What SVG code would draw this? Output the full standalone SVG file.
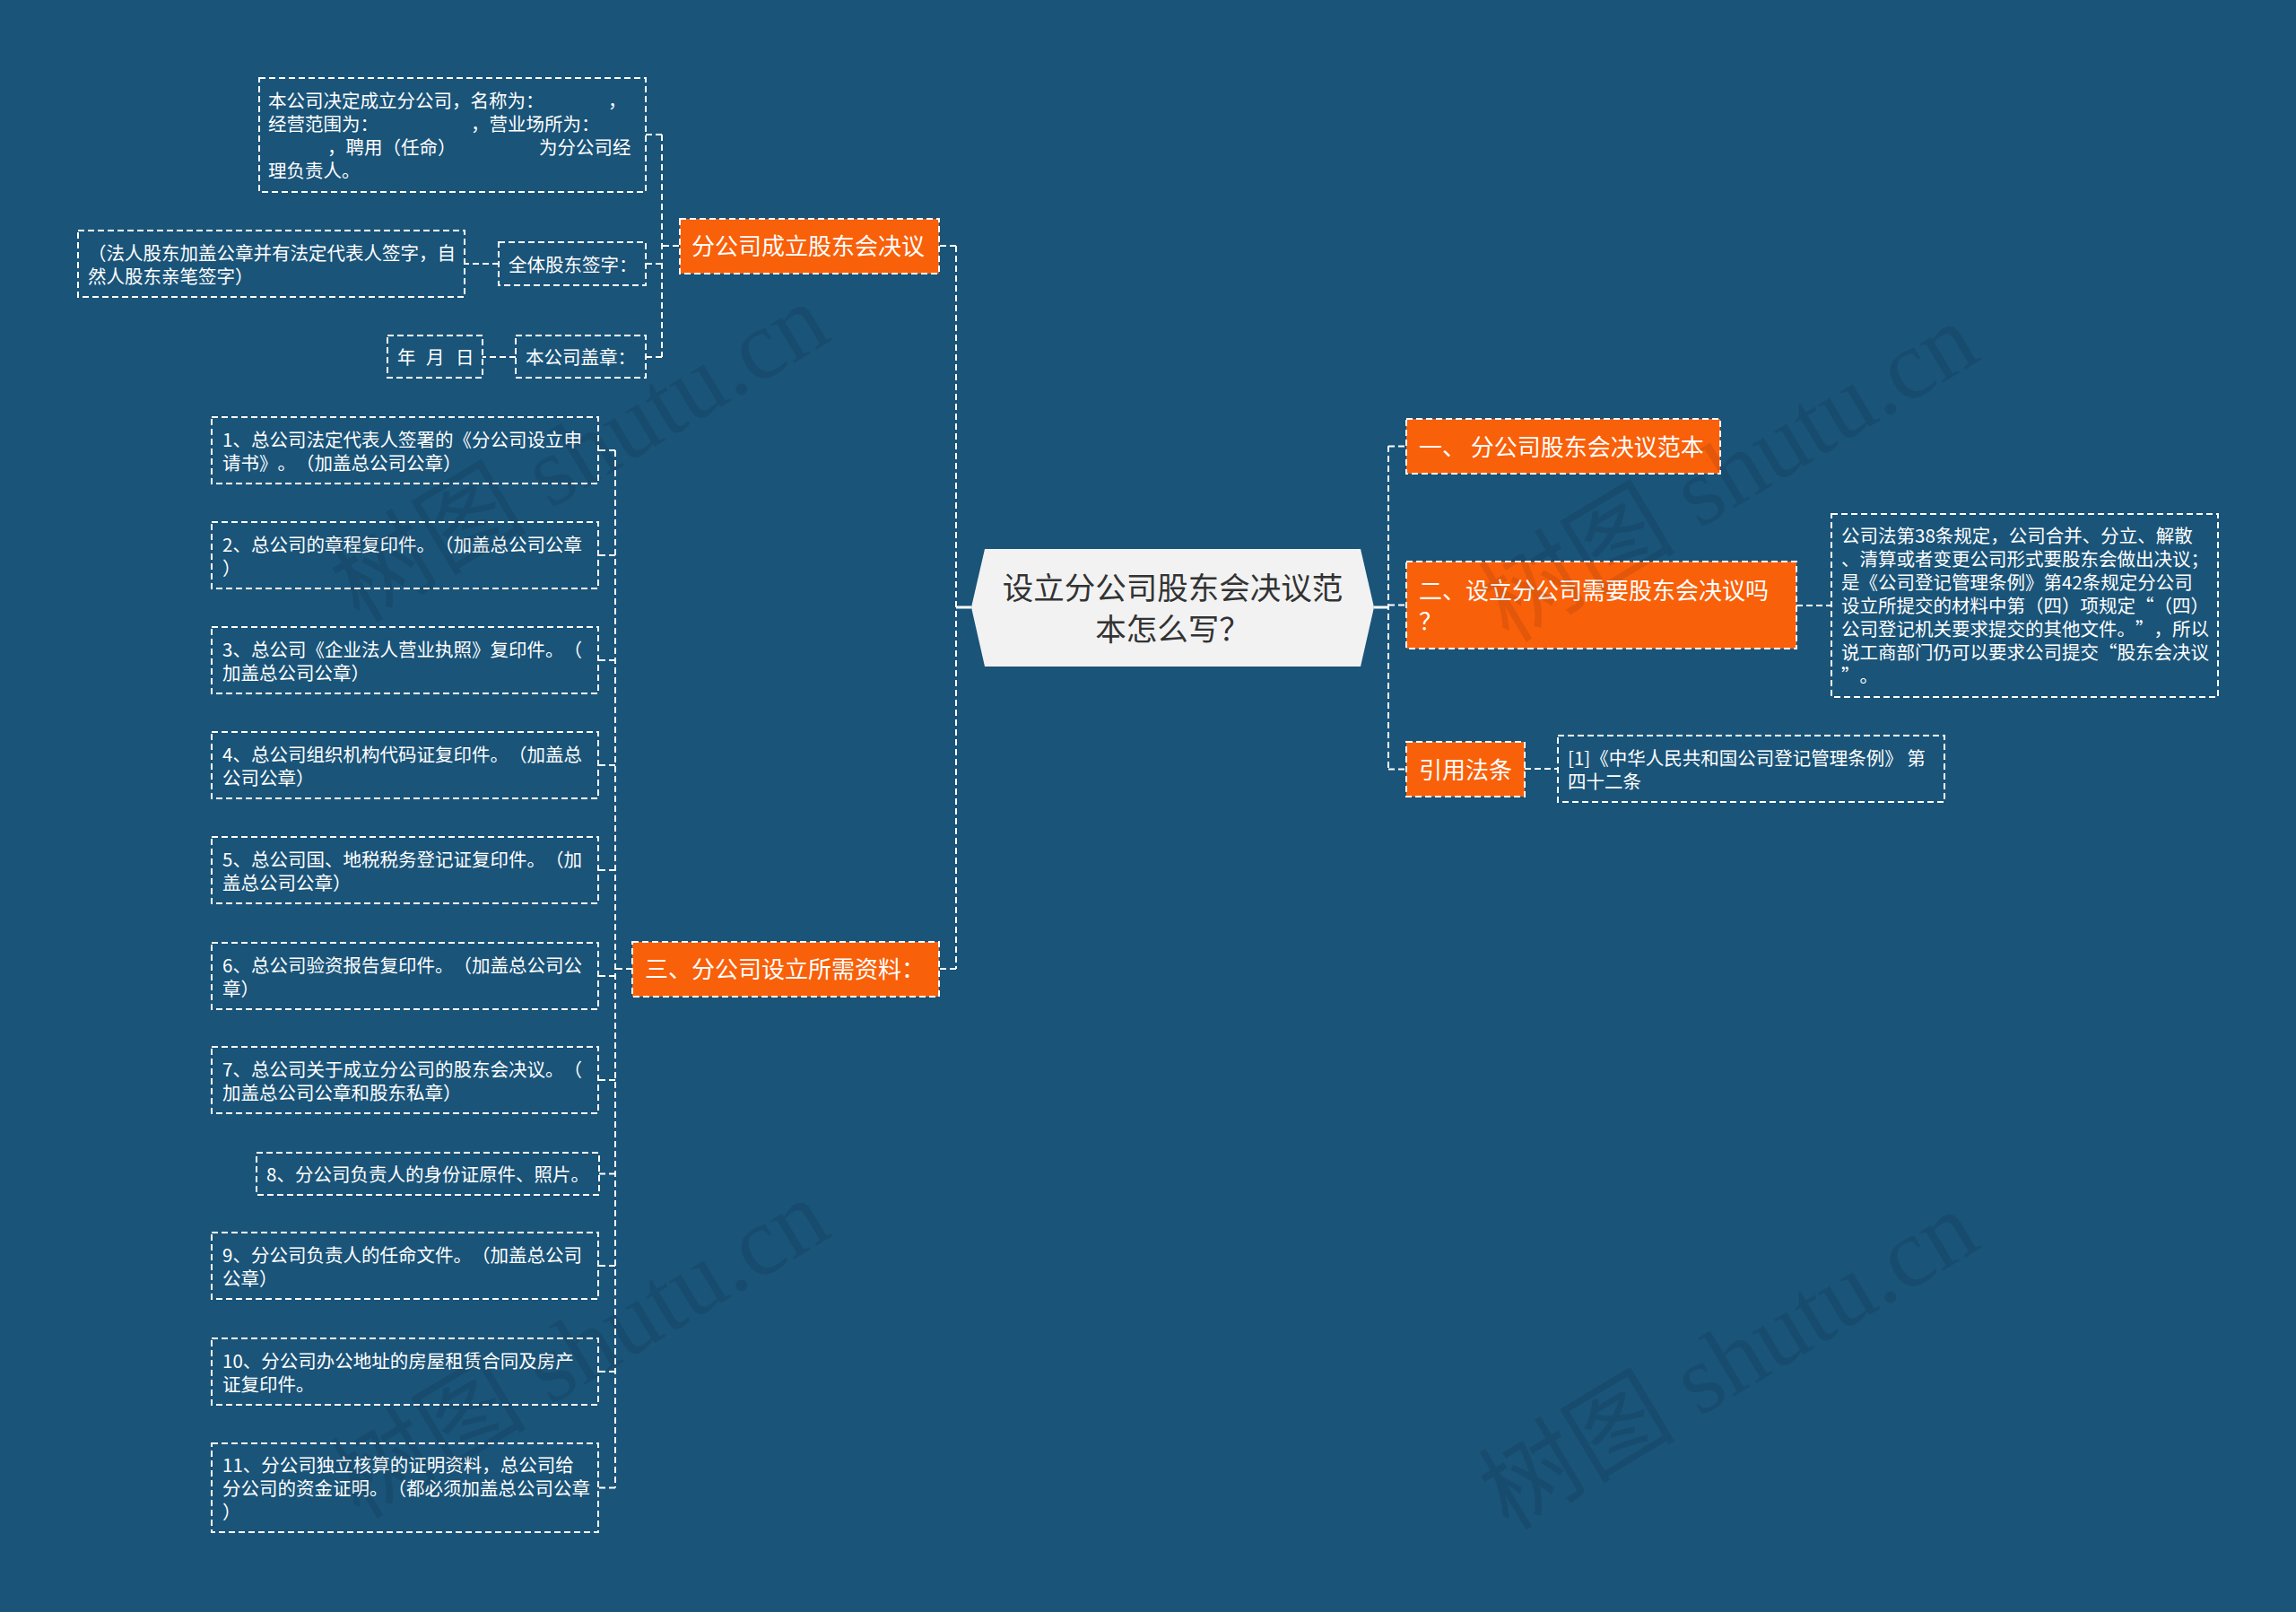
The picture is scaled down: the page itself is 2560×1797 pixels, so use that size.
<svg xmlns="http://www.w3.org/2000/svg" width="2560" height="1797" viewBox="0 0 2560 1797">
<style>
.box{fill:none;stroke:#fff;stroke-width:2;stroke-dasharray:7 4}
.obox{fill:#F9600A;stroke:#fff;stroke-width:2;stroke-dasharray:7 4}
.conn{fill:none;stroke:#fff;stroke-width:2;stroke-dasharray:7 4}
.solid{fill:none;stroke:#fff;stroke-width:3}
text{font-family:"Noto Sans CJK SC","Microsoft YaHei",sans-serif;text-spacing-trim:space-all}
.t{fill:#fff;font-size:20.5px}
.ot{fill:#fff;font-size:26px}
.ct{fill:#333;font-size:34.5px}
.wm{font-family:"Liberation Serif","Noto Sans CJK SC",serif;font-size:110px;fill:#000;fill-opacity:0.09}
</style>
<rect x="0" y="0" width="2560" height="1797" fill="#1A5479"/>

<g id="connectors">
  <path class="solid" d="M1083 677 H1066"/>
  <path class="conn" d="M1066 274 V1080"/>
  <path class="conn" d="M1066 274 H1047"/>
  <path class="conn" d="M1066 1080 H1047"/>
  <path class="solid" d="M1532 677 H1548"/>
  <path class="conn" d="M1548 497 V857"/>
  <path class="conn" d="M1548 497.5 H1568"/>
  <path class="conn" d="M1548 674.5 H1568"/>
  <path class="conn" d="M1548 857.5 H1568"/>
  <path class="conn" d="M757 274 H738"/>
  <path class="conn" d="M738 150 V398"/>
  <path class="conn" d="M738 150 H720"/>
  <path class="conn" d="M738 294 H720"/>
  <path class="conn" d="M738 398 H720"/>
  <path class="conn" d="M556 294 H518"/>
  <path class="conn" d="M575 398 H538"/>
  <path class="conn" d="M705 1080 H686"/>
  <path class="conn" d="M686 502 V1658.5"/>
  <path class="conn" d="M686 502 H667"/>
  <path class="conn" d="M686 619 H667"/>
  <path class="conn" d="M686 736 H667"/>
  <path class="conn" d="M686 853 H667"/>
  <path class="conn" d="M686 970 H667"/>
  <path class="conn" d="M686 1088 H667"/>
  <path class="conn" d="M686 1204 H667"/>
  <path class="conn" d="M686 1308.5 H668"/>
  <path class="conn" d="M686 1411 H667"/>
  <path class="conn" d="M686 1529 H667"/>
  <path class="conn" d="M686 1658.5 H667"/>
  <path class="conn" d="M2003 675 H2042"/>
  <path class="conn" d="M1700 857 H1737"/>
</g>

<g id="center">
  <polygon points="1098,612 1517,612 1532,677 1517,743 1098,743 1083,677" fill="#F2F2F2"/>
  <text class="ct" text-anchor="middle"><tspan x="1307.5" y="668">设立分公司股东会决议范</tspan><tspan x="1307.5" y="714">本怎么写？</tspan></text>
</g>

<g id="n-resolution">
  <rect class="obox" x="758" y="244" width="289" height="61"/>
  <text class="ot" x="771" y="284">分公司成立股东会决议</text>
</g>
<g id="n-resolution-text">
  <rect class="box" x="289" y="87" width="431" height="127"/>
  <text class="t"><tspan x="299" y="120">本公司决定成立分公司，名称为：</tspan><tspan x="678" y="120">，</tspan><tspan x="299" y="146">经营范围为：</tspan><tspan x="525" y="146">，营业场所为：</tspan><tspan x="365" y="172">，聘用（任命）</tspan><tspan x="601" y="172">为分公司经</tspan><tspan x="299" y="198">理负责人。</tspan></text>
</g>
<g id="n-sign">
  <rect class="box" x="556" y="270" width="164" height="48"/>
  <text class="t" x="567" y="302.5">全体股东签字：</text>
</g>
<g id="n-sign-note">
  <rect class="box" x="87" y="257" width="431" height="74"/>
  <text class="t"><tspan x="98" y="289.5">（法人股东加盖公章并有法定代表人签字，自</tspan><tspan x="98" y="315.5">然人股东亲笔签字）</tspan></text>
</g>
<g id="n-seal">
  <rect class="box" x="575" y="374" width="145" height="47"/>
  <text class="t" x="586" y="406">本公司盖章：</text>
</g>
<g id="n-date">
  <rect class="box" x="432" y="374" width="106" height="47"/>
  <text class="t"><tspan x="443" y="406">年</tspan><tspan x="475" y="406">月</tspan><tspan x="508" y="406">日</tspan></text>
</g>

<g id="n-materials">
  <rect class="obox" x="705" y="1050" width="342" height="61"/>
  <text class="ot" x="719" y="1090">三、分公司设立所需资料：</text>
</g>
<g id="m1">
  <rect class="box" x="236" y="465" width="431" height="74"/>
  <text class="t"><tspan x="248" y="497.5">1、总公司法定代表人签署的《分公司设立申</tspan><tspan x="248" y="523.5">请书》。（加盖总公司公章）</tspan></text>
</g>
<g id="m2">
  <rect class="box" x="236" y="582" width="431" height="74"/>
  <text class="t"><tspan x="248" y="614.5">2、总公司的章程复印件。（加盖总公司公章</tspan><tspan x="248" y="640.5">）</tspan></text>
</g>
<g id="m3">
  <rect class="box" x="236" y="699" width="431" height="74"/>
  <text class="t"><tspan x="248" y="731.5">3、总公司《企业法人营业执照》复印件。（</tspan><tspan x="248" y="757.5">加盖总公司公章）</tspan></text>
</g>
<g id="m4">
  <rect class="box" x="236" y="816" width="431" height="74"/>
  <text class="t"><tspan x="248" y="848.5">4、总公司组织机构代码证复印件。（加盖总</tspan><tspan x="248" y="874.5">公司公章）</tspan></text>
</g>
<g id="m5">
  <rect class="box" x="236" y="933" width="431" height="74"/>
  <text class="t"><tspan x="248" y="965.5">5、总公司国、地税税务登记证复印件。（加</tspan><tspan x="248" y="991.5">盖总公司公章）</tspan></text>
</g>
<g id="m6">
  <rect class="box" x="236" y="1051" width="431" height="74"/>
  <text class="t"><tspan x="248" y="1083.5">6、总公司验资报告复印件。（加盖总公司公</tspan><tspan x="248" y="1109.5">章）</tspan></text>
</g>
<g id="m7">
  <rect class="box" x="236" y="1167" width="431" height="74"/>
  <text class="t"><tspan x="248" y="1199.5">7、总公司关于成立分公司的股东会决议。（</tspan><tspan x="248" y="1225.5">加盖总公司公章和股东私章）</tspan></text>
</g>
<g id="m8">
  <rect class="box" x="286" y="1285" width="382" height="47"/>
  <text class="t" x="297" y="1317">8、分公司负责人的身份证原件、照片。</text>
</g>
<g id="m9">
  <rect class="box" x="236" y="1374" width="431" height="74"/>
  <text class="t"><tspan x="248" y="1406.5">9、分公司负责人的任命文件。（加盖总公司</tspan><tspan x="248" y="1432.5">公章）</tspan></text>
</g>
<g id="m10">
  <rect class="box" x="236" y="1492" width="431" height="74"/>
  <text class="t"><tspan x="248" y="1524.5">10、分公司办公地址的房屋租赁合同及房产</tspan><tspan x="248" y="1550.5">证复印件。</tspan></text>
</g>
<g id="m11">
  <rect class="box" x="236" y="1609" width="431" height="99"/>
  <text class="t"><tspan x="248" y="1641">11、分公司独立核算的证明资料，总公司给</tspan><tspan x="248" y="1667">分公司的资金证明。（都必须加盖总公司公章</tspan><tspan x="248" y="1693">）</tspan></text>
</g>

<g id="n-template">
  <rect class="obox" x="1568" y="467" width="350" height="61"/>
  <text class="ot" x="1582" y="507.5">一、 分公司股东会决议范本</text>
</g>
<g id="n-need">
  <rect class="obox" x="1568" y="626" width="435" height="97"/>
  <text class="ot"><tspan x="1582" y="667.5">二、设立分公司需要股东会决议吗</tspan><tspan x="1582" y="701.5">？</tspan></text>
</g>
<g id="n-need-text">
  <rect class="box" x="2042" y="573" width="431" height="204"/>
  <text class="t"><tspan x="2053" y="605">公司法第38条规定，公司合并、分立、解散</tspan><tspan x="2053" y="631">、清算或者变更公司形式要股东会做出决议；</tspan><tspan x="2053" y="657">是《公司登记管理条例》第42条规定分公司</tspan><tspan x="2053" y="683">设立所提交的材料中第（四）项规定“（四）</tspan><tspan x="2053" y="709">公司登记机关要求提交的其他文件。”，所以</tspan><tspan x="2053" y="735">说工商部门仍可以要求公司提交“股东会决议</tspan><tspan x="2053" y="761">”。</tspan></text>
</g>
<g id="n-law">
  <rect class="obox" x="1568" y="827" width="132" height="61"/>
  <text class="ot" x="1582" y="867.5">引用法条</text>
</g>
<g id="n-law-text">
  <rect class="box" x="1737" y="820" width="431" height="74"/>
  <text class="t"><tspan x="1748" y="853">[1]《中华人民共和国公司登记管理条例》 第</tspan><tspan x="1748" y="879">四十二条</tspan></text>
</g>

<g id="watermarks">
  <text class="wm" text-anchor="middle" transform="translate(646,504) rotate(-31)" x="0" y="38">树图 shutu.cn</text>
  <text class="wm" text-anchor="middle" transform="translate(1927,526) rotate(-31)" x="0" y="38">树图 shutu.cn</text>
  <text class="wm" text-anchor="middle" transform="translate(646,1503) rotate(-31)" x="0" y="38">树图 shutu.cn</text>
  <text class="wm" text-anchor="middle" transform="translate(1927,1516) rotate(-31)" x="0" y="38">树图 shutu.cn</text>
</g>
</svg>
